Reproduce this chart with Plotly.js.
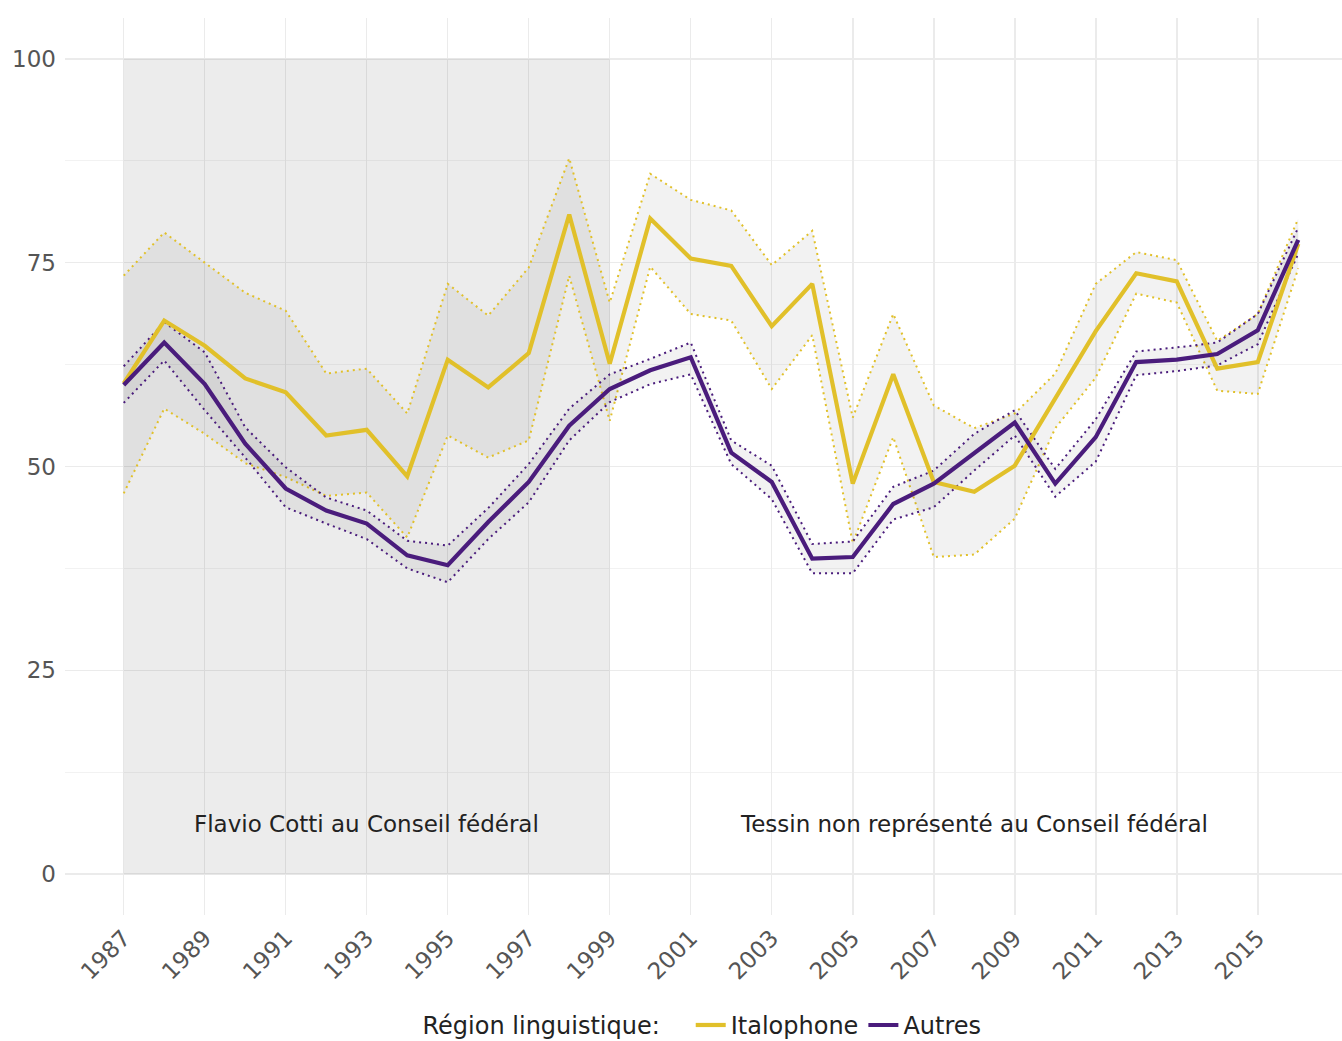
<!DOCTYPE html>
<html>
<head>
<meta charset="utf-8">
<script src="https://cdn.plot.ly/plotly-3.0.1.min.js"></script>
<style>
html,body{margin:0;padding:0;background:#fff;}
#chart{width:1342px;height:1041px;}
</style>
</head>
<body>
<div id="chart"></div>
<script>
const years = [1987,1988,1989,1990,1991,1992,1993,1994,1995,1996,1997,1998,1999,2000,2001,2002,2003,2004,2005,2006,2007,2008,2009,2010,2011,2012,2013,2014,2015,2016];
const italophone   = [60.2,67.9,64.8,60.8,59.1,53.8,54.5,48.8,63.1,59.7,63.9,80.9,62.6,80.4,75.5,74.6,67.2,72.4,47.9,61.3,48.1,46.9,50.1,58.3,66.6,73.7,72.7,62.0,62.8,77.3];
const italophoneHi = [73.4,78.7,75.0,71.3,69.1,61.4,62.0,56.5,72.4,68.5,74.4,87.8,70.1,85.9,82.7,81.4,74.7,78.9,56.0,68.7,57.5,54.7,56.5,61.4,72.4,76.3,75.3,65.4,68.7,80.4];
const italophoneLo = [46.7,57.1,54.0,50.4,48.7,46.4,46.8,41.3,53.8,51.1,53.2,73.4,55.6,74.5,68.7,67.9,59.5,66.1,40.6,53.6,38.9,39.2,43.6,54.7,60.9,71.2,70.1,59.3,58.9,74.3];
const autres   = [60.0,65.2,60.1,52.8,47.3,44.6,43.0,39.1,37.9,43.2,48.1,55.0,59.5,61.8,63.4,51.7,48.1,38.7,38.9,45.4,47.9,51.6,55.4,47.9,53.6,62.8,63.1,63.8,66.7,77.8];
const autresHi = [62.3,67.7,64.0,54.8,49.9,46.2,44.6,40.9,40.3,44.9,50.3,57.1,61.3,63.2,65.2,53.2,50.1,40.5,40.8,47.5,49.5,54.0,56.9,49.7,55.8,64.1,64.6,65.2,68.7,79.3];
const autresLo = [57.8,63.0,56.9,51.1,45.0,43.0,41.1,37.5,35.8,41.1,45.6,53.2,57.9,60.1,61.3,50.3,46.0,36.9,36.9,43.5,45.0,49.5,53.8,46.3,50.6,61.2,61.7,62.4,65.0,76.1];

const seriesNames = ["Italophone", "Autres"];
const xTickVals = [1987,1989,1991,1993,1995,1997,1999,2001,2003,2005,2007,2009,2011,2013,2015];
const yTickVals = [0,25,50,75,100];
const cottiPeriod = [1987, 1999];
const periodLabels = ["Flavio Cotti au Conseil fédéral", "Tessin non représenté au Conseil fédéral"];
const periodLabelX = [1993, 2008];
const periodLabelY = 6.2;

const YEL = "#E1C02A";
const PUR = "#4A1C7C";
const FONT = "'DejaVu Sans', 'Open Sans', sans-serif";

function ribbon(lo, hi, color, name) {
  return [
    {x: years, y: lo, type: "scatter", mode: "lines", line: {color: color, width: 2, dash: "2px,4px"},
     showlegend: false, hoverinfo: "skip", legendgroup: name},
    {x: years, y: hi, type: "scatter", mode: "lines", line: {color: color, width: 2, dash: "2px,4px"},
     fill: "tonexty", fillcolor: "rgba(0,0,0,0.05)", showlegend: false, hoverinfo: "skip", legendgroup: name}
  ];
}

const traces = [
  ...ribbon(italophoneLo, italophoneHi, YEL, seriesNames[0]),
  ...ribbon(autresLo, autresHi, PUR, seriesNames[1]),
  {x: years, y: italophone, type: "scatter", mode: "lines", name: seriesNames[0],
   line: {color: YEL, width: 4.2}, legendgroup: seriesNames[0]},
  {x: years, y: autres, type: "scatter", mode: "lines", name: seriesNames[1],
   line: {color: PUR, width: 4.2}, legendgroup: seriesNames[1]}
];

const layout = {
  width: 1342, height: 1041,
  margin: {l: 65, r: 0, t: 18, b: 126},
  paper_bgcolor: "#ffffff",
  plot_bgcolor: "#ffffff",
  font: {family: FONT, color: "#222222", size: 22},
  hovermode: false,
  xaxis: {
    range: [1985.55, 2017.08],
    tickvals: xTickVals,
    ticktext: xTickVals.map(String),
    tickangle: -45,
    tickfont: {size: 23, color: "#555555"},
    showgrid: true, gridcolor: "#ebebeb", gridwidth: 1.5,
    zeroline: false, showline: false, ticks: "",
    ticklabelstandoff: 4
  },
  yaxis: {
    range: [-5, 105],
    tickvals: yTickVals,
    tickfont: {size: 23, color: "#555555"},
    showgrid: true, gridcolor: "#ebebeb", gridwidth: 1.5,
    minor: {tickvals: [12.5, 37.5, 62.5, 87.5], showgrid: true, gridcolor: "#f2f2f2", gridwidth: 1.5},
    zeroline: false, showline: false, ticks: "",
    ticklabelstandoff: 8
  },
  shapes: [{
    type: "rect", layer: "between", xref: "x", yref: "y",
    x0: cottiPeriod[0], x1: cottiPeriod[1], y0: 0, y1: 100,
    fillcolor: "rgba(0,0,0,0.075)", line: {width: 0}
  }],
  annotations: periodLabels.map((t, i) => ({
    text: t, x: periodLabelX[i], y: periodLabelY, xref: "x", yref: "y",
    showarrow: false, font: {size: 23, color: "#222222", family: FONT}
  })),
  legend: {
    orientation: "h",
    x: 0.5, xanchor: "center",
    y: 0.015, yref: "container", yanchor: "middle",
    font: {size: 24, color: "#222222"},
    title: {text: "Région linguistique:   ", side: "left", font: {size: 24, color: "#222222"}},
    itemwidth: 30,
    bgcolor: "rgba(0,0,0,0)"
  }
};

Plotly.newPlot("chart", traces, layout, {displayModeBar: false, staticPlot: true});
</script>
</body>
</html>
